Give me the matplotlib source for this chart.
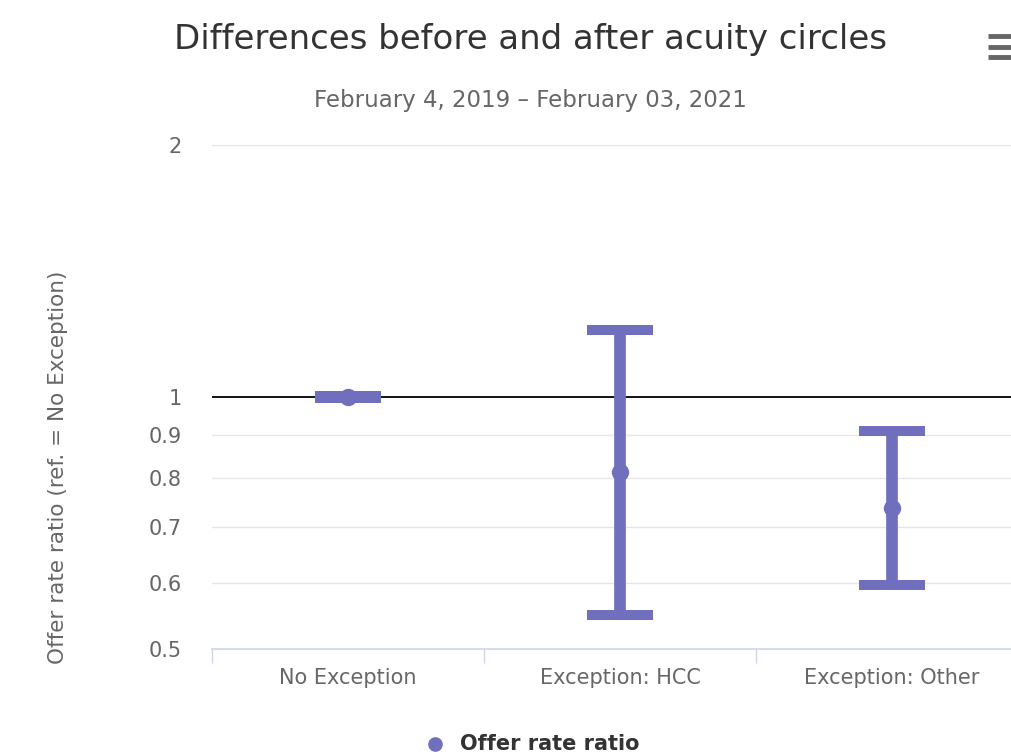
import matplotlib.pyplot as plt
from matplotlib.ticker import FixedLocator, NullLocator, FixedFormatter
from matplotlib.lines import Line2D

# data
categories = ['No Exception', 'Exception: HCC', 'Exception: Other']
ratio = [1.0, 0.814, 0.737]
lower = [0.996, 0.549, 0.596]
upper = [1.004, 1.202, 0.911]
yticks = [0.5, 0.6, 0.7, 0.8, 0.9, 1, 2]
ytick_labels = ['0.5', '0.6', '0.7', '0.8', '0.9', '1', '2']

purple = '#6f6fbd'
grey = '#666666'

W, H = 1011, 755
plt.rcParams['font.family'] = ['DejaVu Sans']

fig = plt.figure(figsize=(W / 100, H / 100), dpi=100)
# plot area runs past the right edge, like the cropped screenshot
ax = fig.add_axes([212 / W, 1 - 649 / H, 816 / W, 504 / H])

ax.set_yscale('log')
ax.set_ylim(0.5, 2)
ax.set_xlim(-0.5, 2.5)

x = list(range(len(categories)))
yerr = [[r - l for r, l in zip(ratio, lower)], [u - r for u, r in zip(upper, ratio)]]

ax.axhline(1, color='black', lw=1.3, zorder=2)
ax.errorbar(x, ratio, yerr=yerr, fmt='o', color=purple, ms=11.5,
            elinewidth=8.4, capsize=23.8, capthick=7.2, zorder=3)

# y axis
ax.yaxis.set_major_locator(FixedLocator(yticks))
ax.yaxis.set_major_formatter(FixedFormatter(ytick_labels))
ax.yaxis.set_minor_locator(NullLocator())
ax.tick_params(axis='y', length=0, pad=22, labelsize=15, labelcolor=grey)
for t in yticks[1:]:
    if t != 1:
        ax.axhline(t, color='#e6e6e6', lw=1, zorder=1)

# x axis: ticks between categories, labels at centres
ax.xaxis.set_major_locator(FixedLocator([-0.5, 0.5, 1.5, 2.5]))
ax.xaxis.set_major_formatter(FixedFormatter(['', '', '', '']))
ax.xaxis.set_minor_locator(FixedLocator(x))
ax.xaxis.set_minor_formatter(FixedFormatter(categories))
ax.tick_params(axis='x', which='major', length=10, width=1, color='#ccd6eb', direction='out')
ax.tick_params(axis='x', which='minor', length=0, pad=14, labelsize=15, labelcolor=grey)

for s in ['top', 'right', 'left']:
    ax.spines[s].set_visible(False)
ax.spines['bottom'].set_color('#ccd6eb')
ax.spines['bottom'].set_linewidth(1.2)

fig.text(58 / W, 1 - 467 / H, 'Offer rate ratio (ref. = No Exception)', rotation=90,
         ha='center', va='center', fontsize=15.5, color=grey)

# titles
fig.text(530 / W, 1 - 40 / H, 'Differences before and after acuity circles',
         ha='center', va='center', fontsize=24.5, color='#333333')
fig.text(530 / W, 1 - 100 / H, 'February 4, 2019 – February 03, 2021',
         ha='center', va='center', fontsize=16.5, color=grey)

# menu icon
for yy in [36, 46.5, 57]:
    fig.add_artist(Line2D([988 / W, 1011 / W], [1 - yy / H, 1 - yy / H],
                          color=grey, lw=3.5, solid_capstyle='butt'))

# legend
fig.add_artist(Line2D([435 / W], [1 - 744 / H], marker='o', ms=9.5, color=purple, lw=0))
fig.text(460 / W, 1 - 744 / H, 'Offer rate ratio', ha='left', va='center',
         fontsize=15, fontweight='bold', color='#333333')

fig.savefig('out.png', dpi=100)
